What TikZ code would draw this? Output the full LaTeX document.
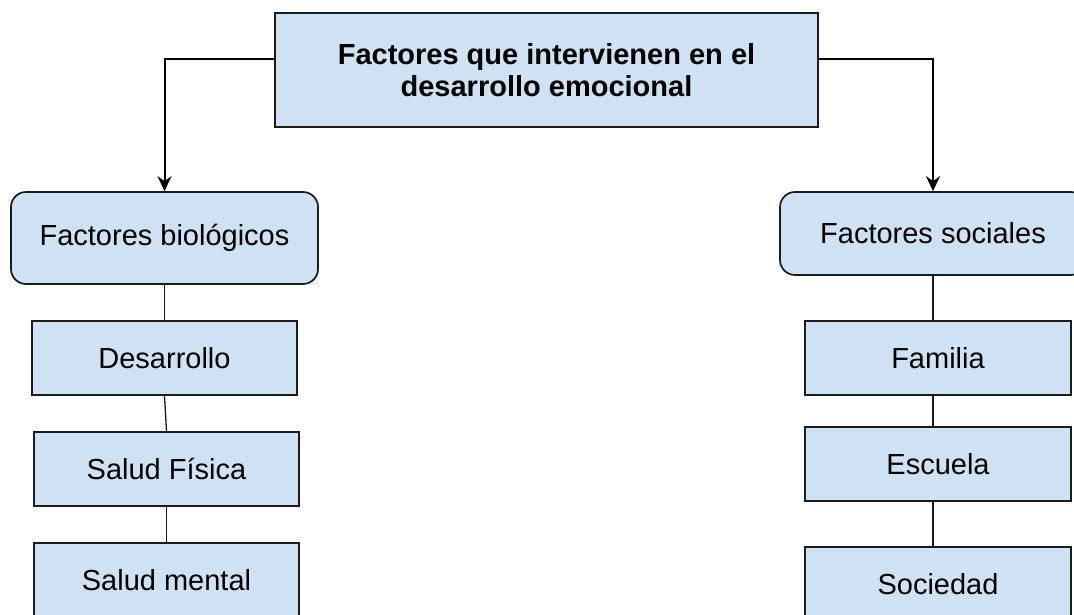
\documentclass[tikz,border=0pt]{standalone}
\usepackage{fontspec}
\setmainfont{Liberation Sans}
\usetikzlibrary{arrows.meta,calc}
\definecolor{boxfill}{HTML}{CFE2F3}
\definecolor{boxline}{HTML}{1B1B1B}
\begin{document}
\begin{tikzpicture}[x=1pt,y=-1pt,
  base/.style={draw=boxline,fill=boxfill,line width=1.7pt,inner sep=0pt,
    font=\fontsize{29}{32}\selectfont,align=center},
  titlebox/.style={base,minimum width=543pt,minimum height=114pt,font=\fontsize{29}{32}\selectfont\bfseries},
  catbox/.style={base,rounded corners=15pt},
  itembox/.style={base,minimum width=265pt,minimum height=74pt},
  mainarrow/.style={line width=2pt,draw=black,-{Stealth[length=15pt,width=14pt,inset=5pt]}},
  chain/.style={line width=1.3pt,draw=boxline}]
\useasboundingbox (0,0) rectangle (1074,615);
\clip (0,0) rectangle (1074,615);
\node[titlebox] (top) at (546.5,70) {Factores que intervienen en el\\desarrollo emocional};
\node[catbox,minimum width=307pt,minimum height=92pt] (bio) at (164.5,238) {Factores biológicos};
\node[catbox,minimum width=306pt,minimum height=83pt] (soc) at (933,233.5) {Factores sociales};
\node[itembox] (des) at (164.5,358) {Desarrollo};
\node[itembox] (fis) at (166.5,469) {Salud Física};
\node[itembox] (men) at (166.5,580) {Salud mental};
\node[itembox,minimum width=266pt] (fam) at (938,358) {Familia};
\node[itembox,minimum width=266pt] (esc) at (938,464) {Escuela};
\node[itembox,minimum width=266pt] (sod) at (938,584) {Sociedad};
\draw[mainarrow] ([yshift=11pt]top.west) -| (bio.north);
\draw[mainarrow] ([yshift=11pt]top.east) -| (soc.north);
\draw[chain] (bio.south) -- (des.north);
\draw[chain] (des.south) -- (fis.north);
\draw[chain] (fis.south) -- (men.north);
\draw[chain] (soc.south) -- (soc.south |- fam.north);
\draw[chain] (fam.south -| soc.south) -- (soc.south |- esc.north);
\draw[chain] (esc.south -| soc.south) -- (soc.south |- sod.north);
\end{tikzpicture}
\end{document}
